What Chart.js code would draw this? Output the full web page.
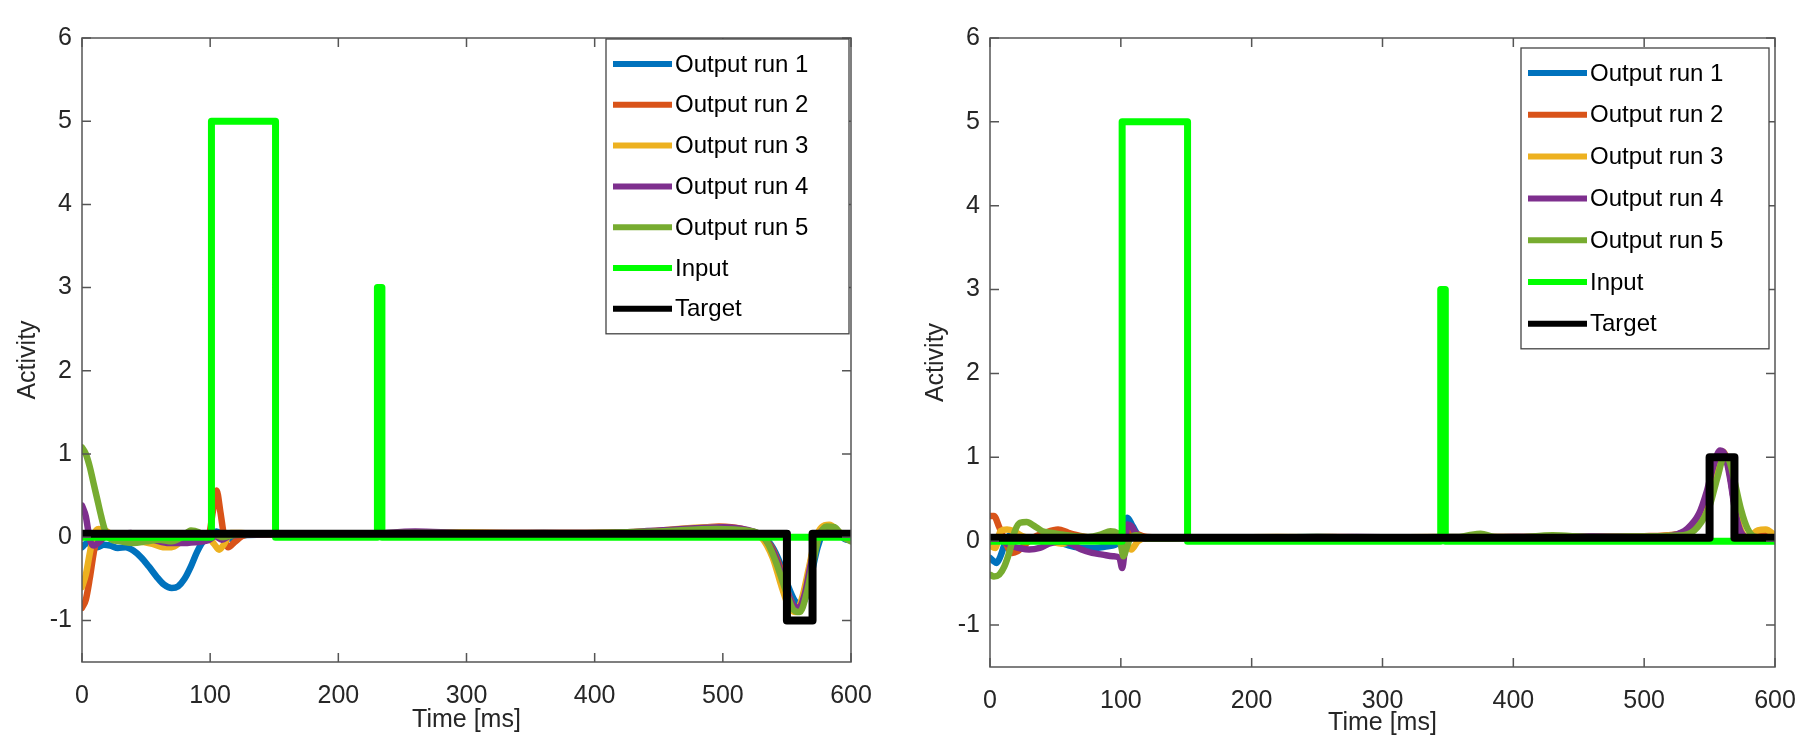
<!DOCTYPE html>
<html>
<head>
<meta charset="utf-8">
<script src="https://cdn.jsdelivr.net/npm/chart.js@4.4.1/dist/chart.umd.min.js"></script>
<style>
  html, body { margin: 0; padding: 0; background: #fff; overflow: hidden; }
  #wrap { position: relative; width: 1797px; height: 738px; overflow: hidden; }
  .panel { position: absolute; top: 0; }
  #left-panel { left: 0; }
  #right-panel { left: 898px; }
</style>
</head>
<body>
<div id="wrap">
  <div class="panel" id="left-panel"><canvas id="left-chart" width="898" height="738"></canvas></div>
  <div class="panel" id="right-panel"><canvas id="right-chart" width="920" height="738"></canvas></div>
</div>
<script>
// axis ticks
const xTicks = [0, 100, 200, 300, 400, 500, 600];
const yTicks = [-1, 0, 1, 2, 3, 4, 5, 6];

const seriesLabels = ["Output run 1", "Output run 2", "Output run 3", "Output run 4", "Output run 5", "Input", "Target"];
const seriesColors = ["#0072BD", "#D95319", "#EDB120", "#7E2F8E", "#77AC30", "#00FF00", "#000000"];

// left panel: [time ms, activity]
const leftRun1 = [[0,-0.12],[4,-0.07],[8,-0.1],[12,-0.12],[17,-0.09],[22,-0.1],[28,-0.13],[34,-0.12],[40,-0.16],[46,-0.24],[52,-0.35],[58,-0.47],[64,-0.57],[70,-0.61],[75,-0.59],[80,-0.5],[85,-0.35],[90,-0.17],[95,-0.04],[100,0.02],[105,0.07],[110,0.02],[116,-0.02],[124,0.02],[140,0.03],[170,0.04],[200,0.03],[240,0.04],[280,0.05],[320,0.04],[360,0.05],[400,0.04],[440,0.06],[470,0.08],[500,0.1],[515,0.08],[527,0.03],[536,-0.06],[543,-0.25],[550,-0.55],[556,-0.76],[561,-0.82],[565,-0.7],[569,-0.45],[574,-0.12],[579,0.08],[584,0.11],[590,0.05],[595,-0.02],[600,-0.04]];
const leftRun2 = [[0,-0.85],[3,-0.75],[6,-0.5],[9,-0.2],[12,0.02],[16,0.08],[21,0.04],[28,0],[36,0.03],[45,-0.02],[55,0],[65,0.04],[75,0.03],[85,0],[95,0],[99,0.03],[102,0.3],[105,0.56],[108,0.3],[111,0],[114,-0.12],[119,-0.06],[126,0.02],[140,0.04],[180,0.04],[230,0.04],[270,0.06],[320,0.05],[380,0.05],[430,0.06],[470,0.09],[497,0.13],[515,0.1],[528,0.02],[538,-0.12],[546,-0.42],[552,-0.72],[557,-0.86],[561,-0.8],[566,-0.5],[571,-0.12],[577,0.09],[583,0.13],[590,0.06],[600,-0.02]];
const leftRun3 = [[0,-0.6],[3,-0.45],[6,-0.2],[9,0.02],[13,0.1],[18,0.08],[25,0.02],[35,0],[45,-0.05],[55,-0.08],[63,-0.12],[70,-0.12],[78,-0.05],[88,0],[98,0],[103,-0.08],[107,-0.15],[111,-0.08],[116,0.05],[124,0.05],[140,0.03],[190,0.04],[240,0.04],[290,0.06],[340,0.05],[390,0.05],[440,0.07],[490,0.12],[515,0.09],[530,0],[539,-0.25],[546,-0.6],[552,-0.85],[557,-0.9],[562,-0.72],[567,-0.38],[572,-0.03],[577,0.12],[583,0.15],[591,0.06],[600,-0.03]];
const leftRun4 = [[0,0.38],[3,0.25],[6,-0.02],[9,-0.1],[14,-0.05],[20,0.03],[28,0.02],[38,0.05],[48,0.01],[58,-0.04],[68,-0.07],[78,-0.07],[88,-0.06],[98,-0.04],[104,0.01],[109,-0.03],[116,0.02],[130,0.03],[170,0.04],[220,0.04],[260,0.07],[300,0.05],[350,0.05],[400,0.05],[450,0.08],[500,0.12],[518,0.09],[531,0.01],[540,-0.2],[548,-0.55],[554,-0.8],[559,-0.85],[564,-0.68],[569,-0.3],[574,0],[579,0.1],[585,0.12],[592,0.04],[600,-0.03]];
const leftRun5 = [[0,1.08],[3,1.0],[6,0.85],[9,0.65],[12,0.45],[15,0.25],[18,0.08],[22,-0.02],[30,-0.05],[40,-0.07],[50,-0.05],[60,-0.03],[70,-0.05],[78,0],[85,0.08],[91,0.06],[97,0],[103,0.03],[110,0],[120,0.03],[150,0.04],[200,0.04],[250,0.05],[300,0.05],[350,0.04],[400,0.05],[450,0.07],[495,0.1],[518,0.08],[533,-0.02],[541,-0.28],[549,-0.64],[555,-0.87],[560,-0.9],[565,-0.7],[570,-0.33],[575,0],[581,0.13],[587,0.12],[594,0],[600,-0.05]];
const leftInput = [[0,0],[101,0],[101,5],[151,5],[151,0],[230.5,0],[230.5,3],[234,3],[234,0],[600,0]];
const leftTarget = [[0,0.04],[550,0.04],[550,-1],[570,-1],[570,0.04],[600,0.04]];

// right panel: [time ms, activity]
const rightRun1 = [[0,-0.2],[3,-0.24],[5,-0.26],[8,-0.18],[12,0],[16,0.08],[22,0.05],[30,0.02],[40,0.03],[50,0],[60,-0.05],[70,-0.08],[80,-0.08],[90,-0.06],[98,-0.02],[102,0.18],[105,0.28],[109,0.18],[114,0.06],[122,0.03],[150,0.04],[200,0.04],[250,0.05],[300,0.04],[350,0.05],[400,0.05],[450,0.05],[500,0.05],[525,0.08],[537,0.18],[546,0.45],[552,0.78],[557,1.0],[561,1.03],[565,0.85],[569,0.45],[573,0.14],[579,0.04],[588,0.08],[594,0.09],[600,0.05]];
const rightRun2 = [[0,0.3],[3,0.3],[7,0.17],[12,-0.02],[17,-0.14],[21,-0.12],[26,-0.05],[33,0.04],[42,0.1],[52,0.14],[60,0.1],[70,0.06],[80,0.04],[90,0.04],[99,0.06],[104,0.14],[110,0.1],[120,0.05],[140,0.04],[200,0.04],[260,0.05],[320,0.04],[380,0.05],[440,0.05],[500,0.06],[525,0.08],[537,0.18],[546,0.45],[552,0.78],[557,1.0],[561,1.04],[565,0.85],[569,0.45],[573,0.14],[579,0.04],[588,0.09],[594,0.1],[600,0.06]];
const rightRun3 = [[0,-0.05],[4,-0.08],[8,0.12],[13,0.14],[18,0.12],[25,0.06],[35,0.02],[45,0],[55,-0.03],[65,0],[75,0.02],[90,0.05],[99,0.07],[104,0],[108,-0.1],[113,0],[120,0.04],[160,0.04],[220,0.05],[280,0.04],[340,0.05],[400,0.05],[460,0.06],[510,0.06],[528,0.09],[540,0.22],[549,0.58],[555,0.93],[560,1.07],[564,0.95],[568,0.58],[573,0.18],[579,0.05],[587,0.13],[593,0.14],[600,0.07]];
const rightRun4 = [[0,0],[5,0.05],[10,0],[15,-0.05],[22,-0.08],[30,-0.1],[38,-0.08],[45,-0.03],[55,0],[62,-0.03],[70,-0.1],[78,-0.14],[86,-0.16],[94,-0.18],[99,-0.2],[101,-0.32],[103,-0.1],[105,0.2],[108,0.18],[112,0.08],[120,0.03],[160,0.04],[220,0.04],[280,0.05],[340,0.04],[400,0.05],[460,0.06],[505,0.05],[522,0.07],[533,0.15],[542,0.33],[548,0.6],[553,0.9],[558,1.08],[562,1.02],[566,0.72],[570,0.32],[575,0.08],[582,0.03],[600,0.04]];
const rightRun5 = [[0,-0.4],[3,-0.42],[7,-0.4],[11,-0.3],[15,-0.12],[19,0.12],[23,0.22],[28,0.23],[34,0.18],[40,0.12],[46,0.1],[55,0.08],[65,0.06],[75,0.05],[85,0.08],[92,0.12],[97,0.1],[100,-0.04],[102,-0.18],[104,-0.1],[107,0.03],[112,0.07],[120,0.03],[180,0.04],[250,0.05],[320,0.04],[355,0.04],[366,0.07],[375,0.09],[385,0.05],[400,0.04],[430,0.07],[460,0.05],[510,0.06],[530,0.07],[541,0.17],[550,0.42],[556,0.76],[561,1.0],[565,0.96],[569,0.72],[574,0.38],[579,0.15],[585,0.05],[600,0.03]];
const rightInput = [[0,0],[101,0],[101,5],[151,5],[151,0],[344.5,0],[344.5,3],[348,3],[348,0],[600,0]];
const rightTarget = [[0,0.04],[550,0.04],[550,1],[569,1],[569,0.04],[600,0.04]];

(function () {
  const FONT = '"Liberation Sans", Arial, Helvetica, sans-serif';
  const INK = "#262626";
  const AXIS = "#555555";

  Chart.defaults.font.family = FONT;
  Chart.defaults.color = INK;

  function toPoints(pairs) {
    return pairs.map(([x, y]) => ({ x, y }));
  }

  // MATLAB style box, inner ticks, y title and boxed legend
  const matlabFrame = {
    id: "matlabFrame",
    afterDatasetsDraw(chart, args, opts) {
      const { ctx, chartArea: a, scales } = chart;
      ctx.save();
      ctx.strokeStyle = AXIS;
      ctx.lineWidth = 1.5;
      ctx.strokeRect(a.left, a.top, a.right - a.left, a.bottom - a.top);
      ctx.beginPath();
      xTicks.forEach((v) => {
        const px = scales.x.getPixelForValue(v);
        ctx.moveTo(px, a.bottom);
        ctx.lineTo(px, a.bottom - 9);
        ctx.moveTo(px, a.top);
        ctx.lineTo(px, a.top + 9);
      });
      yTicks.forEach((v) => {
        const py = scales.y.getPixelForValue(v);
        ctx.moveTo(a.left, py);
        ctx.lineTo(a.left + 9, py);
        ctx.moveTo(a.right, py);
        ctx.lineTo(a.right - 9, py);
      });
      ctx.stroke();

      // y axis title, sits a little below the middle like MATLAB's
      ctx.save();
      ctx.translate(opts.yTitle.x, (a.top + a.bottom) / 2 + opts.yTitle.dy);
      ctx.rotate(-Math.PI / 2);
      ctx.font = "25px " + FONT;
      ctx.fillStyle = INK;
      ctx.textAlign = "center";
      ctx.textBaseline = "middle";
      ctx.fillText("Activity", 0, 0);
      ctx.restore();

      const lg = opts.legend;
      const sets = chart.data.datasets;
      const boxL = a.right - lg.right - lg.width;
      const boxT = a.top + lg.top;
      const boxH = lg.inset * 2 + lg.row * (sets.length - 1);
      ctx.fillStyle = "#ffffff";
      ctx.fillRect(boxL, boxT, lg.width, boxH);
      ctx.strokeStyle = "#444444";
      ctx.lineWidth = 1.3;
      ctx.strokeRect(boxL, boxT, lg.width, boxH);
      ctx.font = "24px " + FONT;
      ctx.textBaseline = "middle";
      ctx.textAlign = "left";
      sets.forEach((ds, i) => {
        const y = boxT + lg.inset + i * lg.row;
        ctx.beginPath();
        ctx.strokeStyle = ds.borderColor;
        ctx.lineWidth = 6;
        ctx.lineCap = "butt";
        ctx.moveTo(boxL + 7, y);
        ctx.lineTo(boxL + 66, y);
        ctx.stroke();
        ctx.fillStyle = "#000000";
        ctx.fillText(ds.label, boxL + 69, y + 1);
      });
      ctx.restore();
    },
  };

  function buildPanel(canvasId, series, frame) {
    const canvas = document.getElementById(canvasId);
    const datasets = series.map((pairs, i) => {
      const isOutput = i < 5;
      return {
        label: seriesLabels[i],
        data: toPoints(pairs),
        borderColor: seriesColors[i],
        backgroundColor: seriesColors[i],
        borderWidth: isOutput ? 6.5 : i === 5 ? 7 : 8,
        pointRadius: 0,
        fill: false,
        cubicInterpolationMode: isOutput ? "monotone" : "default",
        tension: 0,
        borderCapStyle: "round",
        borderJoinStyle: "round",
        clip: 0,
        order: series.length - i,
      };
    });

    return new Chart(canvas, {
      type: "line",
      data: { datasets },
      options: {
        responsive: false,
        animation: false,
        layout: {
          padding: { top: 38, right: frame.padRight, left: 0, bottom: 0 },
        },
        plugins: {
          legend: { display: false },
          tooltip: { enabled: false },
          matlabFrame: { legend: frame.legend, yTitle: frame.yTitle },
        },
        scales: {
          x: {
            type: "linear",
            min: 0,
            max: 600,
            grid: { display: false, drawTicks: false },
            border: { display: false },
            afterBuildTicks: (scale) => {
              scale.ticks = xTicks.map((value) => ({ value }));
            },
            afterFit: (scale) => {
              scale.height = frame.xAxisHeight;
            },
            ticks: {
              padding: 19,
              maxRotation: 0,
              font: { size: 25 },
              color: INK,
            },
            title: {
              display: true,
              text: "Time [ms]",
              font: { size: 25 },
              color: INK,
              padding: { top: 0, bottom: frame.xTitlePad },
            },
          },
          y: {
            type: "linear",
            min: -1.5,
            max: 6,
            grid: { display: false, drawTicks: false },
            border: { display: false },
            afterBuildTicks: (scale) => {
              scale.ticks = yTicks.map((value) => ({ value }));
            },
            afterFit: (scale) => {
              scale.width = frame.yAxisWidth;
            },
            ticks: {
              padding: 10,
              font: { size: 25 },
              color: INK,
            },
            title: { display: false },
          },
        },
      },
      plugins: [matlabFrame],
    });
  }

  buildPanel("left-chart",
    [leftRun1, leftRun2, leftRun3, leftRun4, leftRun5, leftInput, leftTarget],
    {
      padRight: 47,
      xAxisHeight: 76,
      yAxisWidth: 82,
      xTitlePad: 3,
      yTitle: { x: 28, dy: 10 },
      legend: { right: 2, top: 1, width: 243, row: 40.8, inset: 25 },
    });

  // canvas runs past the page edge so the 600 label padding fits; the wrapper clips it
  buildPanel("right-chart",
    [rightRun1, rightRun2, rightRun3, rightRun4, rightRun5, rightInput, rightTarget],
    {
      padRight: 43,
      xAxisHeight: 71,
      yAxisWidth: 92,
      xTitlePad: 0,
      yTitle: { x: 38, dy: 10 },
      legend: { right: 6, top: 10, width: 248, row: 41.8, inset: 25 },
    });
})();
</script>
</body>
</html>
